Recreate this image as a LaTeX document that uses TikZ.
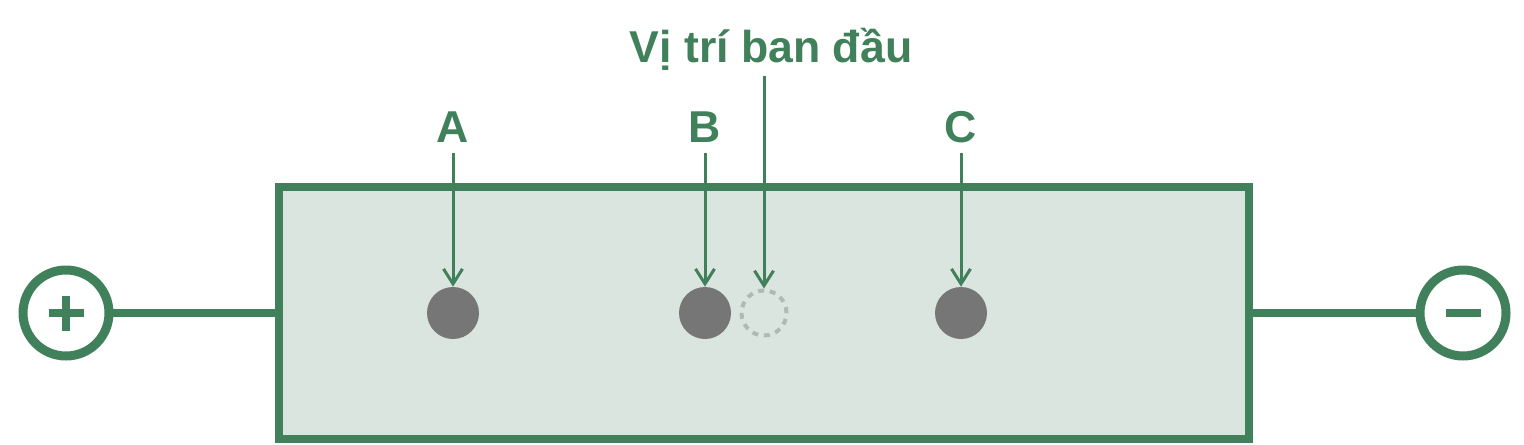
\documentclass[tikz,border=0pt]{standalone}
\usepackage{fontspec}
\setmainfont{Liberation Sans}
\usetikzlibrary{arrows.meta,calc}
\definecolor{mygreen}{RGB}{64,128,90}
\definecolor{mylight}{RGB}{218,229,223}
\definecolor{mydot}{RGB}{118,118,118}
\definecolor{myghost}{RGB}{176,186,180}

\begin{document}
\begin{tikzpicture}[x=0.02cm,y=-0.02cm]

\tikzstyle{cell} = [draw=mygreen, line width=0.16cm, fill=mylight,
minimum width=19.41cm, minimum height=5.06cm, inner sep=0]
\tikzstyle{pole} = [circle, draw=mygreen, line width=0.18cm, fill=white,
minimum size=1.72cm, inner sep=0]
\tikzstyle{wire} = [draw=mygreen, line width=0.16cm]
\tikzstyle{sign} = [draw=mygreen, line width=0.16cm]
\tikzstyle{ion} = [circle, fill=mydot, minimum size=1.04cm, inner sep=0]
\tikzstyle{ghost} = [circle, draw=myghost, line width=0.08cm,
dash pattern=on 0.12cm off 0.115cm, minimum size=0.9cm, inner sep=0]
\tikzstyle{tag} = [text=mygreen, font=\fontsize{25.4}{30}\selectfont\bfseries,
inner sep=0, text depth=0pt, anchor=base]
\tikzstyle{pointer} = [draw=mygreen, line width=0.06cm,
-{Straight Barb[length=0.3cm,width=0.38cm,line width=0.06cm]}]

\useasboundingbox (0,0) rectangle (1524,444);

\node [cell] (box) at (764.25,313) {};

\node [pole] (plus) at (66,313) {};
\node [pole] (minus) at (1463,313) {};
\draw [wire] (plus) -- (box);
\draw [wire] (box) -- (minus);
\draw [sign] ($(plus)+(-17.5,0)$) -- ($(plus)+(17.5,0)$);
\draw [sign] ($(plus)+(0,-17.5)$) -- ($(plus)+(0,17.5)$);
\draw [sign] ($(minus)+(-17.5,0)$) -- ($(minus)+(17.5,0)$);

\node [ion] (a) at (453,313) {};
\node [ion] (b) at (705,313) {};
\node [ion] (c) at (961,313) {};
\node [ghost] (start) at (764,313) {};

\node [tag] (la) at (453,142) {A};
\node [tag] (lb) at (705,142) {B};
\node [tag] (lc) at (961,142) {C};
\node [tag] (lstart) at (771,62) {Vị trí ban đầu};

\draw [pointer, shorten <=0.22cm] (la) -- (a);
\draw [pointer, shorten <=0.22cm] (lb) -- (b);
\draw [pointer, shorten <=0.22cm] (lc) -- (c);
\draw [pointer, shorten <=0.28cm] (lstart.south -| start.north) -- (start.north);

\end{tikzpicture}
\end{document}
